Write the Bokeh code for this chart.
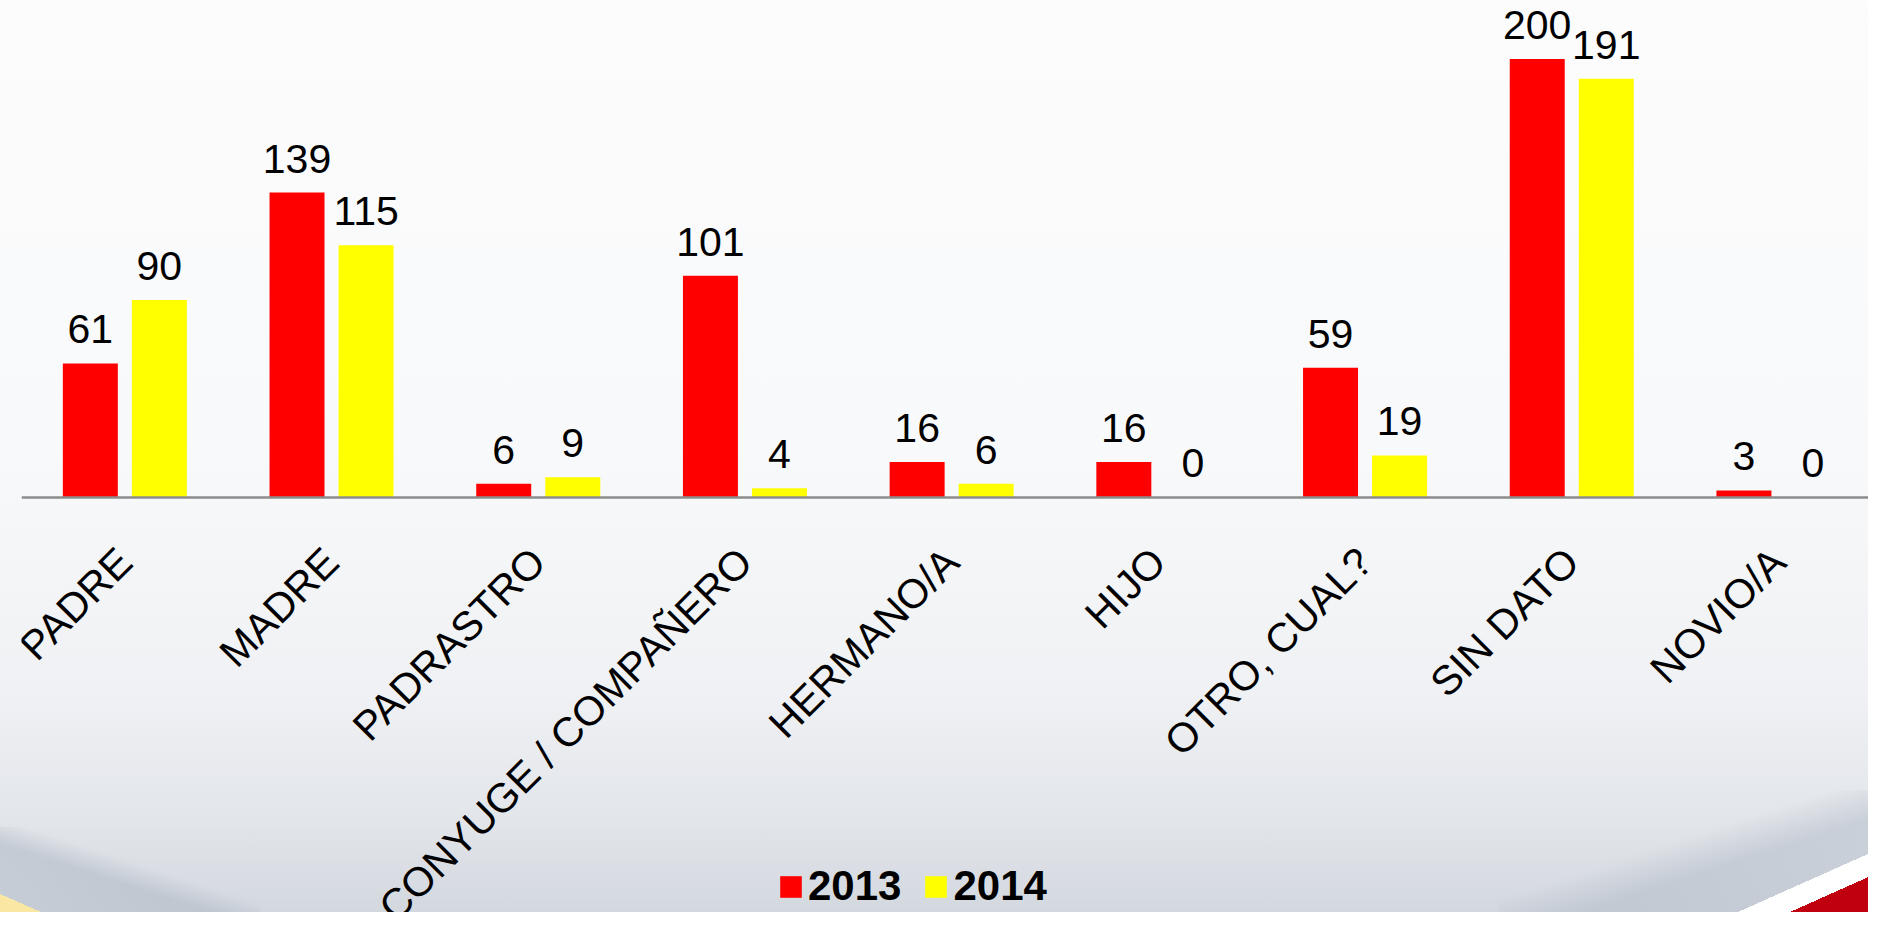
import numpy as np
from bokeh.plotting import figure
from bokeh.models import ColumnDataSource, Range1d, FixedTicker, LabelSet, Legend, LegendItem
from bokeh.transform import dodge
from bokeh.core.properties import value
from bokeh.embed import file_html
from bokeh.resources import INLINE

# ---- data ----
categories = ["PADRE", "MADRE", "PADRASTRO", "CONYUGE / COMPAÑERO", "HERMANO/A",
              "HIJO", "OTRO, CUAL?", "SIN DATO", "NOVIO/A"]
values_2013 = [61, 139, 6, 101, 16, 16, 59, 200, 3]
values_2014 = [90, 115, 9, 4, 6, 0, 19, 191, 0]
series_names = ["2013", "2014"]
series_colors = ["#ff0000", "#ffff00"]

# ---- layout constants ----
W, H = 1868, 912
frame_left = 21
axis_y = 496.5
cat_px = 206.7
px_per_unit = 2.19
offset = 0.167
bar_w = 0.266
FONT = "Liberation Sans"

x = np.arange(len(categories))
src = ColumnDataSource(dict(
    x=x,
    v2013=values_2013,
    v2014=values_2014,
    t2013=[str(v) for v in values_2013],
    t2014=[str(v) for v in values_2014],
))

p = figure(width=W, height=H,
           x_range=Range1d(-0.5, -0.5 + (W - frame_left) / cat_px),
           y_range=Range1d(-(H - axis_y) / px_per_unit, axis_y / px_per_unit),
           output_backend="svg", toolbar_location=None,
           min_border_left=frame_left, min_border_right=0, min_border_top=0,
           min_border_bottom=0)

p.styles = {
    "background": ", ".join([
        "linear-gradient(to bottom right, rgba(255,255,255,0) 50%, #ffffff 50%, #ffffff 70%, #c0000e 70%) right bottom / 130px 58px no-repeat",
        "linear-gradient(to bottom right, rgba(165,176,190,0) 45%, rgba(165,176,190,0.40) 62%, rgba(175,185,198,0.30) 100%) right bottom / 370px 122px no-repeat",
        "linear-gradient(to bottom left, rgba(251,231,164,0) 50%, #fbe7a4 50%) left bottom / 41px 18px no-repeat",
        "linear-gradient(to bottom left, rgba(165,176,190,0) 45%, rgba(165,176,190,0.45) 60%, rgba(175,185,198,0.35) 100%) left bottom / 260px 85px no-repeat",
        "linear-gradient(to bottom, #fcfcfd 0%, #f8f9fa 50%, #eff1f4 76%, #e2e5ea 90%, #d3d8df 100%)",
    ])
}

p.background_fill_color = None
p.border_fill_color = None
p.outline_line_color = None
p.grid.visible = False
p.yaxis.visible = False

r1 = p.vbar(x=dodge("x", -offset), top="v2013", width=bar_w, bottom=0, source=src,
            fill_color=series_colors[0], line_color=None)
r2 = p.vbar(x=dodge("x", offset), top="v2014", width=bar_w, bottom=0, source=src,
            fill_color=series_colors[1], line_color=None)

for key, dx in (("2013", -offset), ("2014", offset)):
    labels = LabelSet(x=dodge("x", dx), y="v" + key, text="t" + key, source=src,
                      y_offset=20, text_align="center", text_baseline="alphabetic",
                      text_font=value(FONT), text_font_size="41px", text_color="#000000")
    p.add_layout(labels)

ax = p.xaxis[0]
ax.fixed_location = 0
ax.ticker = FixedTicker(ticks=x.tolist())
ax.major_label_overrides = {int(i): c for i, c in zip(x, categories)}
ax.major_label_orientation = np.pi / 4
ax.major_label_text_font = FONT
ax.major_label_text_font_size = "41px"
ax.major_label_text_color = "#000000"
ax.major_label_standoff = 52
ax.major_tick_line_color = None
ax.minor_tick_line_color = None
ax.axis_line_color = "#8c8c8c"
ax.axis_line_width = 2.5

legend = Legend(items=[LegendItem(label=series_names[0], renderers=[r1]),
                       LegendItem(label=series_names[1], renderers=[r2])],
                location=(756, 2),
                orientation="horizontal",
                glyph_width=27, glyph_height=27, label_height=27,
                label_standoff=4, spacing=21, padding=0, margin=0,
                border_line_color=None, background_fill_alpha=0,
                label_text_font=FONT, label_text_font_style="bold",
                label_text_font_size="42px", label_text_color="#000000")
p.add_layout(legend)

open("out.html", "w").write(file_html(p, INLINE))
